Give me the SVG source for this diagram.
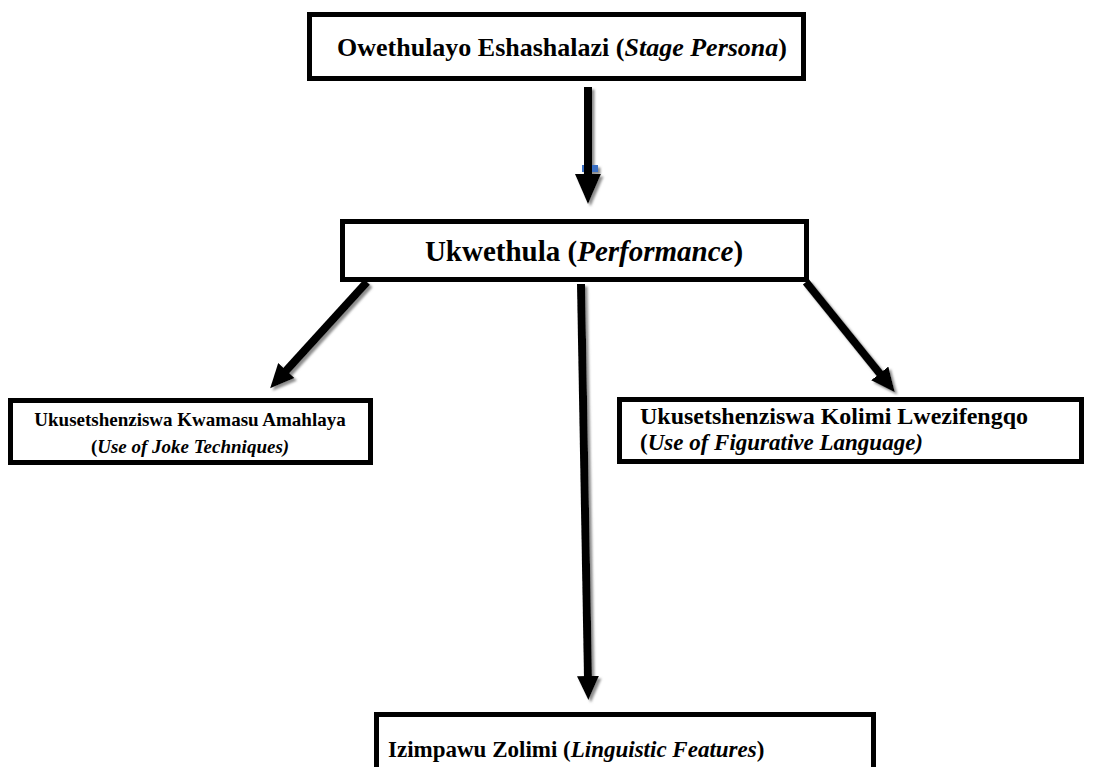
<svg xmlns="http://www.w3.org/2000/svg" width="1120" height="767" viewBox="0 0 1120 767">
  <defs>
    <style>
      .box { fill: #ffffff; stroke: #000000; stroke-width: 5; }
      .t { font-family: "Liberation Serif", "Times New Roman", serif; font-weight: bold; fill: #000000; }
      .i { font-style: italic; }
      .shaft { stroke: #000000; stroke-width: 8; fill: none; }
    </style>
    <marker id="head" markerUnits="userSpaceOnUse" viewBox="0 0 30 26" refX="2" refY="13" markerWidth="30" markerHeight="26" orient="auto">
      <path d="M0,0 L30,13 L0,26 Z" fill="#000000"/>
    </marker>
    <marker id="headS" markerUnits="userSpaceOnUse" viewBox="0 0 24 22" refX="2" refY="11" markerWidth="24" markerHeight="22" orient="auto">
      <path d="M0,0 L24,11 L0,22 Z" fill="#000000"/>
    </marker>
    <filter id="shadow" x="-20%" y="-20%" width="140%" height="140%">
      <feDropShadow dx="2.5" dy="2.5" stdDeviation="0.8" flood-color="#808080" flood-opacity="0.9"/>
    </filter>
  </defs>
  <rect width="1120" height="767" fill="#ffffff"/>

  <g id="connectors" filter="url(#shadow)">
    <rect x="582" y="165" width="16" height="7" fill="#3a6fc4"/>
    <line class="shaft" x1="588" y1="87" x2="588" y2="176" marker-end="url(#head)"/>
    <line class="shaft" x1="367" y1="282" x2="285" y2="372" marker-end="url(#headS)"/>
    <line class="shaft" x1="806" y1="282" x2="881" y2="375" marker-end="url(#headS)"/>
    <line class="shaft" x1="581" y1="284" x2="588" y2="678" marker-end="url(#headS)"/>
  </g>

  <g id="node-persona">
    <rect class="box" x="309.5" y="14.5" width="494" height="64"/>
    <text class="t" x="562" y="56" font-size="26" text-anchor="middle">Owethulayo Eshashalazi (<tspan class="i">Stage Persona</tspan>)</text>
  </g>

  <g id="node-performance">
    <rect class="box" x="342.5" y="221.5" width="464" height="58"/>
    <text class="t" x="584" y="261" font-size="29" text-anchor="middle">Ukwethula (<tspan class="i">Performance</tspan>)</text>
  </g>

  <g id="node-joke">
    <rect class="box" x="10.5" y="400.5" width="360" height="62"/>
    <text class="t" x="190" y="426" font-size="19" text-anchor="middle">Ukusetshenziswa Kwamasu Amahlaya</text>
    <text class="t" x="190" y="453" font-size="19" text-anchor="middle">(<tspan class="i">Use of Joke Techniques)</tspan></text>
  </g>

  <g id="node-figurative">
    <rect class="box" x="619.5" y="399.5" width="462" height="62"/>
    <text class="t" x="640" y="424" font-size="24">Ukusetshenziswa Kolimi Lwezifengqo</text>
    <text class="t" x="640" y="450" font-size="23">(<tspan class="i">Use of Figurative Language)</tspan></text>
  </g>

  <g id="node-linguistic">
    <rect class="box" x="376.5" y="714.5" width="497" height="70"/>
    <text class="t" x="388" y="757" font-size="23">Izimpawu Zolimi (<tspan class="i">Linguistic Features</tspan>)</text>
  </g>
</svg>
